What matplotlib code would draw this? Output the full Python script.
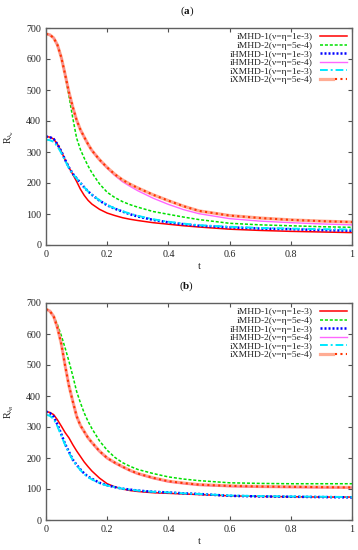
import matplotlib
matplotlib.use("Agg")
import matplotlib.pyplot as plt
from matplotlib.legend_handler import HandlerTuple

plt.rcParams['font.family'] = ['Liberation Serif', 'DejaVu Serif']
plt.rcParams['mathtext.fontset'] = 'custom'
plt.rcParams['mathtext.rm'] = 'Liberation Serif'
plt.rcParams['mathtext.it'] = 'Liberation Serif:italic'
plt.rcParams['mathtext.bf'] = 'Liberation Serif:bold'

# ---------------- data ----------------
t = [0, 0.0125, 0.025, 0.0375, 0.05, 0.0625, 0.075, 0.0875, 0.1, 0.1125, 0.125,
     0.1375, 0.15, 0.175, 0.2, 0.225, 0.25, 0.275, 0.3, 0.35, 0.4, 0.45, 0.5,
     0.6, 0.7, 0.8, 0.9, 1.0]

labels = ["iMHD-1(ν=η=1e-3)", "iMHD-2(ν=η=5e-4)", "iHMHD-1(ν=η=1e-3)",
          "iHMHD-2(ν=η=5e-4)", "iXMHD-1(ν=η=1e-3)", "iXMHD-2(ν=η=5e-4)"]

# panel (a): R_lambda_u
a_imhd1 = [350, 348, 342, 325, 302, 275, 250, 228, 205, 180, 160, 144, 132, 115,
           103, 95, 88, 83, 79, 72, 67, 62, 58, 51, 47, 44, 42, 40]
a_imhd2 = [681, 678, 668, 645, 605, 550, 480, 410, 345, 308, 280, 255, 233, 197,
           170, 153, 140, 130, 122, 108, 99, 90, 82, 70, 65, 62, 59, 57]
a_ihmhd1 = [350, 348, 342, 325, 302, 275, 250, 230, 215, 200, 186, 173, 162, 143,
            128, 117, 108, 99, 92, 81, 73, 67, 62, 57, 53, 51, 48, 46]
a_ihmhd2 = [681, 678, 668, 645, 605, 550, 493, 445, 403, 372, 348, 325, 305, 274,
            248, 224, 204, 189, 175, 151, 131, 114, 101, 85, 77, 72, 68, 65]
a_ixmhd1 = [340, 338, 333, 318, 297, 272, 248, 229, 215, 200, 186, 173, 162, 144,
            129, 118, 109, 101, 94, 83, 75, 69, 64, 59, 55, 53, 51, 50]
a_ixmhd2 = [681, 678, 668, 645, 605, 550, 493, 445, 403, 372, 348, 325, 305, 275,
            250, 228, 210, 196, 184, 162, 143, 125, 110, 95, 87, 81, 77, 74]

# panel (b): R_lambda_B
b_imhd1 = [350, 347, 340, 323, 303, 282, 265, 243, 223, 205, 187, 172, 158, 135,
           117, 107, 100, 95, 92, 88, 86, 84, 82, 78, 76, 75, 74, 74]
b_imhd2 = [680, 674, 657, 630, 595, 555, 512, 465, 415, 378, 345, 318, 295, 255,
           225, 202, 185, 173, 163, 150, 139, 132, 127, 120, 118, 117, 117, 117]
b_ihmhd1 = [350, 345, 333, 308, 277, 245, 220, 195, 178, 163, 150, 140, 133, 120,
            112, 106, 101, 98, 95, 91, 89, 86, 84, 78, 76, 75, 74, 73]
b_ihmhd2 = [680, 674, 657, 620, 568, 498, 433, 383, 335, 305, 284, 264, 248, 220,
            198, 183, 170, 158, 148, 134, 123, 117, 112, 108, 106, 105, 104, 104]
b_ixmhd1 = [340, 336, 326, 302, 272, 242, 217, 193, 176, 161, 148, 138, 131, 119,
            111, 106, 101, 98, 95, 91, 89, 86, 84, 79, 77, 76, 75, 74]
b_ixmhd2 = [680, 674, 657, 620, 568, 498, 433, 383, 335, 305, 285, 265, 250, 222,
            200, 185, 172, 160, 150, 136, 125, 119, 114, 110, 108, 107, 106, 105]

xticks = [0, 0.2, 0.4, 0.6, 0.8, 1.0]
xticklabels = ["0", "0.2", "0.4", "0.6", "0.8", "1"]
yticks = [0, 100, 200, 300, 400, 500, 600, 700]

panels = [
    ("($\\mathbf{a}$)", r"$\mathrm{R}_{\lambda_u}$",
     [a_imhd1, a_imhd2, a_ihmhd1, a_ihmhd2, a_ixmhd1, a_ixmhd2]),
    ("($\\mathbf{b}$)", r"$\mathrm{R}_{\lambda_B}$",
     [b_imhd1, b_imhd2, b_ihmhd1, b_ihmhd2, b_ixmhd1, b_ixmhd2]),
]

W, H = 358, 550
fig = plt.figure(figsize=(W / 100, H / 100), dpi=100)

ax_boxes = [(46, 28, 352, 245), (46, 303, 352, 520)]
title_y = [11, 286]

FS = 7.2
LFS = 6.8
for (title, ylab, series), (x0, y0, x1, y1), ty in zip(panels, ax_boxes, title_y):
    ax = fig.add_axes([x0 / W, 1 - y1 / H, (x1 - x0) / W, (y1 - y0) / H])
    s1, s2, s3, s4, s5, s6 = series
    h1, = ax.plot(t, s1, color='#ff0000', lw=1.1, ls='-')
    h2, = ax.plot(t, s2, color='#00e000', lw=1.1, ls=(0, (2, 1.2)))
    h3, = ax.plot(t, s3, color='#0000ff', lw=1.8, ls=(0, (0.8, 0.8)))
    h4, = ax.plot(t, s4, color='#ff66ff', lw=1.0, ls='-')
    h5, = ax.plot(t, s5, color='#00e8ff', lw=1.4, ls=(0, (4, 1.5, 1, 1.5)))
    h6a, = ax.plot(t, s6, color='#ff9070', lw=2.3, ls='-', alpha=0.75)
    h6b, = ax.plot(t, s6, color='#ff3300', lw=1.5, ls=(0, (1.0, 1.6)))

    ax.set_xlim(0, 1)
    ax.set_ylim(0, 700)
    ax.set_xticks(xticks)
    ax.set_xticklabels(xticklabels)
    ax.set_yticks(yticks)
    ax.tick_params(direction='in', length=3, width=0.8, top=True, right=True,
                   labelsize=FS, colors='#505050', labelcolor='#222222', pad=3.5)
    for sp in ax.spines.values():
        sp.set_color('#606060')
        sp.set_linewidth(1.0)
    ax.set_xlabel('t', fontsize=FS, color='#222222', labelpad=2.5)
    ax.set_ylabel(ylab, fontsize=FS, color='#222222')
    ax.yaxis.set_label_coords(-0.098, 0.5)

    leg = ax.legend([h1, h2, h3, h4, h5, (h6a, h6b)], labels,
                    handler_map={tuple: HandlerTuple(ndivide=None)},
                    loc='upper right', frameon=False, fontsize=LFS,
                    markerfirst=False, handlelength=2.9, handletextpad=0.8,
                    labelspacing=0.0, borderaxespad=0.3, borderpad=0.2)
    for txt in leg.get_texts():
        txt.set_color('#222222')

    fig.text(187 / W, 1 - ty / H, title, ha='center', va='center', fontsize=8,
             color='#111111')

fig.savefig('out.png', dpi=100)
